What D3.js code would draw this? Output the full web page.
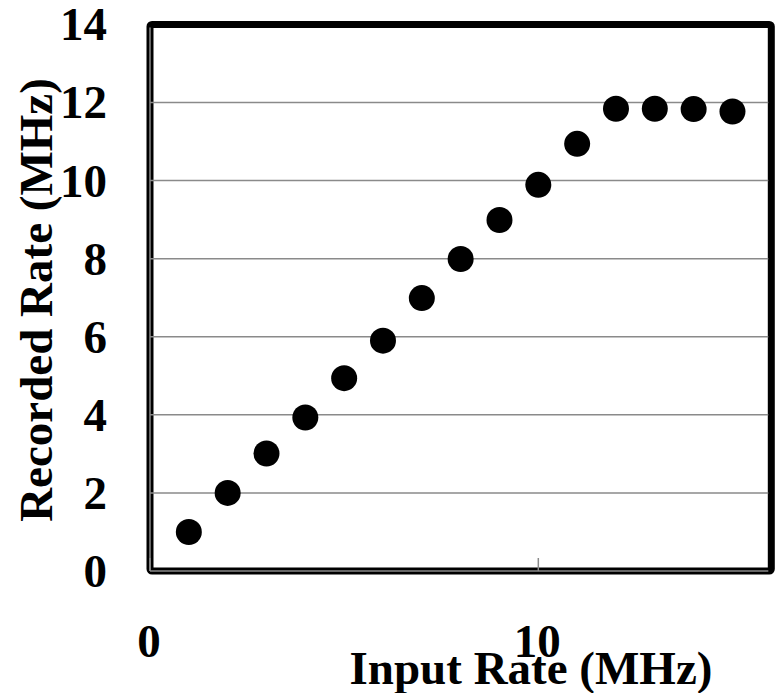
<!DOCTYPE html>
<html>
<head>
<meta charset="utf-8">
<script src="https://cdn.jsdelivr.net/npm/d3@7"></script>
<style>
  html, body { margin: 0; padding: 0; background: #fff; }
  svg { display: block; }
  text { font-family: "Liberation Serif", "Times New Roman", serif; font-weight: bold; fill: #000; }
</style>
</head>
<body>
<svg id="chart" width="780" height="693"></svg>
<script>
// Input rate (MHz) on x, recorded rate (MHz) on y
const inputRate    = [1, 2, 3, 4, 5, 6, 7, 8, 9, 10, 11, 12, 13, 14, 15];
const recordedRate = [1.0, 2.0, 3.01, 3.93, 4.94, 5.9, 6.99, 7.99, 8.99, 9.89, 10.94, 11.84, 11.84, 11.83, 11.77];

const xTicks = [0, 10];
const yTicks = [0, 2, 4, 6, 8, 10, 12, 14];
const xDomain = [0, 16];
const yDomain = [0, 14];
const xTitle = "Input Rate (MHz)";
const yTitle = "Recorded Rate (MHz)";

const svg = d3.select("#chart");

const x = d3.scaleLinear().domain(xDomain).range([150, 771.3]);
const y = d3.scaleLinear().domain(yDomain).range([571, 24.4]);

const [x0, x1] = x.range();
const [yb, yt] = y.range();

// thick black frame around the plot area
svg.append("rect")
  .attr("x", x0).attr("y", yt)
  .attr("width", x1 - x0).attr("height", yb - yt)
  .attr("rx", 2).attr("ry", 2)
  .attr("fill", "none")
  .attr("stroke", "#000")
  .attr("stroke-width", 7);

// horizontal gridlines
svg.append("g")
  .selectAll("line")
  .data(yTicks.filter(d => d > 0 && d < 14))
  .join("line")
  .attr("x1", x0).attr("x2", x1 - 3)
  .attr("y1", d => y(d)).attr("y2", d => y(d))
  .attr("stroke", "#8a8a8a")
  .attr("stroke-width", 1.5);

// gray axis lines drawn over the frame
svg.append("line")
  .attr("x1", x0).attr("x2", x0)
  .attr("y1", yt + 3).attr("y2", yb)
  .attr("stroke", "#8a8a8a").attr("stroke-width", 1.5);
svg.append("line")
  .attr("x1", x0).attr("x2", x1 - 3)
  .attr("y1", yb).attr("y2", yb)
  .attr("stroke", "#8a8a8a").attr("stroke-width", 1.5);

// inward tick marks on the x axis
svg.append("g")
  .selectAll("line")
  .data(xTicks)
  .join("line")
  .attr("x1", d => x(d)).attr("x2", d => x(d))
  .attr("y1", yb).attr("y2", yb - 13)
  .attr("stroke", "#8a8a8a").attr("stroke-width", 1.5);

// y tick labels
svg.append("g")
  .selectAll("text")
  .data(yTicks)
  .join("text")
  .attr("x", 107)
  .attr("y", d => y(d))
  .attr("dy", "0.34em")
  .attr("text-anchor", "end")
  .attr("font-size", 47)
  .text(d => d);

// x tick labels
svg.append("g")
  .selectAll("text")
  .data(xTicks)
  .join("text")
  .attr("x", d => x(d) - 1)
  .attr("y", 657)
  .attr("text-anchor", "middle")
  .attr("font-size", 47)
  .text(d => d);

// axis titles
svg.append("text")
  .attr("x", 531)
  .attr("y", 684)
  .attr("text-anchor", "middle")
  .attr("font-size", 47)
  .text(xTitle);

svg.append("text")
  .attr("transform", "translate(52,300) rotate(-90)")
  .attr("text-anchor", "middle")
  .attr("font-size", 47)
  .text(yTitle);

// data points
svg.append("g")
  .selectAll("circle")
  .data(inputRate.map((v, i) => [v, recordedRate[i]]))
  .join("circle")
  .attr("cx", d => x(d[0]))
  .attr("cy", d => y(d[1]))
  .attr("r", 13)
  .attr("fill", "#000");
</script>
</body>
</html>
